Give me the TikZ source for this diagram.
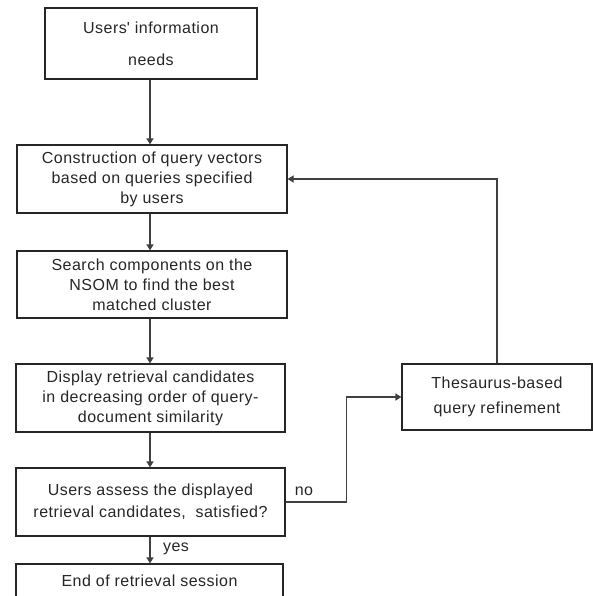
\documentclass[tikz,border=0pt]{standalone}
\usepackage{fontspec}
\setmainfont[LetterSpace=3]{Liberation Sans}
\usetikzlibrary{arrows.meta}
\begin{document}
\begin{tikzpicture}[x=1pt,y=-1pt,
  box/.style={draw=black!85, line width=1.2pt, inner sep=0pt, align=center,
    font=\fontsize{16}{20}\selectfont, text=black!85},
  arr/.style={draw=black!75, line width=1.6pt, -{Triangle[width=7pt,length=6pt]}},
  lbl/.style={font=\fontsize{16}{20}\selectfont, text=black!85, inner sep=0pt}]
\useasboundingbox[fill=white] (0,0) rectangle (593,596);
\coordinate (ax) at (150,0);
\node[box, minimum width=212pt, minimum height=71pt, font=\fontsize{16}{32}\selectfont] (b1) at (151,43.5) {Users\textquotesingle\ information\\needs};
\node[box, minimum width=270pt, minimum height=68pt] (b2) at (152,179) {Construction of query vectors\\based on queries specified\\by users};
\node[box, minimum width=270pt, minimum height=67pt] (b3) at (152,284.5) {Search components on the\\NSOM to find the best\\matched cluster};
\node[box, minimum width=269pt, minimum height=68pt] (b4) at (150.5,398) {Display retrieval candidates\\in decreasing order of query-\\document similarity};
\node[box, minimum width=269pt, minimum height=68pt, font=\fontsize{16}{22}\selectfont] (b5) at (150.5,502) {Users assess the displayed\\retrieval candidates,\ \ satisfied?};
\node[box, minimum width=267pt, minimum height=34pt] (b6) at (149.5,581) {End of retrieval session};
\node[box, minimum width=190pt, minimum height=66pt, font=\fontsize{16}{25}\selectfont] (th) at (497,397) {Thesaurus-based\\query refinement};
\draw[arr] (b1.south -| ax) -- (b2.north -| ax);
\draw[arr] (b2.south -| ax) -- (b3.north -| ax);
\draw[arr] (b3.south -| ax) -- (b4.north -| ax);
\draw[arr] (b4.south -| ax) -- (b5.north -| ax);
\draw[arr] (b5.south -| ax) -- (b6.north -| ax);
\draw[arr] (th.north) |- (b2.east);
\draw[arr] (b5.east) -- ++(61,0) coordinate (nk) |- (th.west);
\node[lbl] (no) at (304,491) {no};
\node[lbl] (yes) at (176,549) {yes};
\end{tikzpicture}
\end{document}
